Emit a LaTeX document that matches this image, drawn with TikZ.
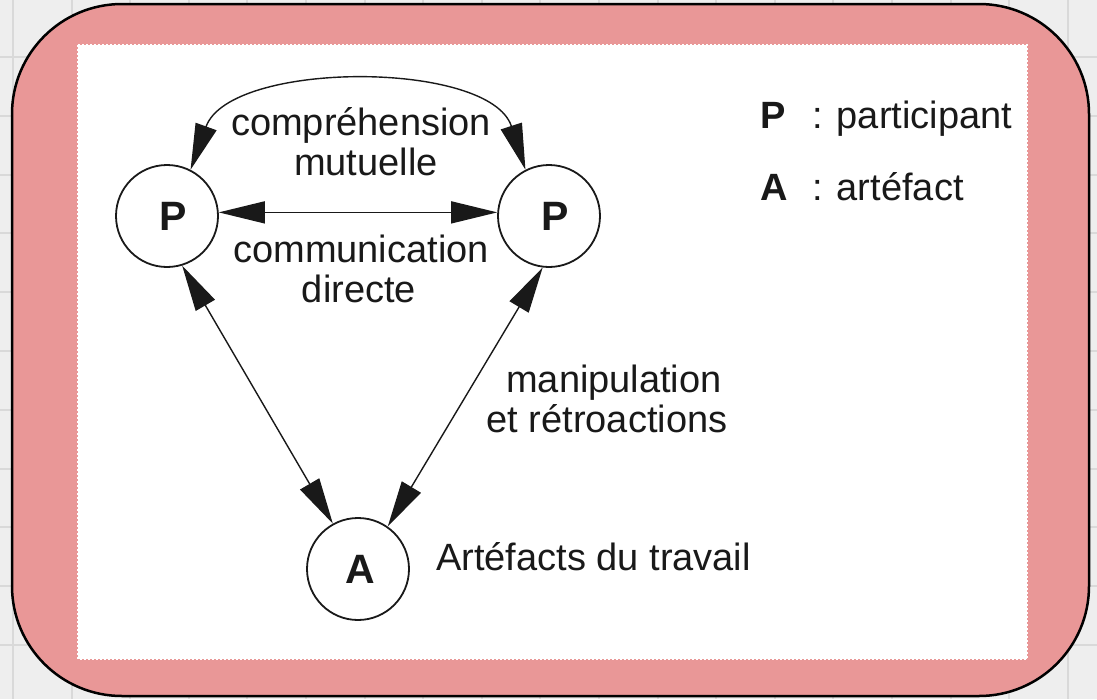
\documentclass[tikz,border=0pt]{standalone}
\usepackage{fontspec}
\setmainfont{Liberation Sans}
\usetikzlibrary{arrows.meta}
\definecolor{pinkbg}{RGB}{233,151,151}
\definecolor{gridbg}{RGB}{238,238,238}
\definecolor{gridln}{RGB}{217,217,217}
\definecolor{ink}{RGB}{25,25,25}
\begin{document}
\begin{tikzpicture}[x=1pt,y=-1pt,
  bigfont/.style={font=\fontsize{38}{40}\selectfont},
  boldfont/.style={font=\fontsize{38}{40}\selectfont\bfseries},
  circ/.style={circle, draw=ink, line width=1.8pt, minimum size=102pt, inner sep=0pt, font=\fontsize{41}{42}\selectfont\bfseries, text=ink},
  txt/.style={inner sep=0pt, text=ink, bigfont},
  btxt/.style={inner sep=0pt, text=ink, boldfont},
  conn/.style={draw=ink, line width=1.4pt, {Triangle[length=46pt,width=22pt]}-{Triangle[length=46pt,width=22pt]}}]
\useasboundingbox (0,0) rectangle (1097,699);
\fill[gridbg] (0,0) rectangle (1097,699);
\foreach \i in {0,...,18} \draw[gridln, line width=2pt] ({13+58.6*\i},0) -- ++(0,699);
\foreach \j in {0,...,11} \draw[gridln, line width=2pt] (0,{-1.8+58.8*\j}) -- ++(1097,0);
\draw[line width=2.5pt, fill=pinkbg, rounded corners=110pt] (12,4) rectangle (1089,696);
\draw[fill=white, draw=white, line width=1.5pt, dash pattern=on 2pt off 2pt] (78,45) rectangle (1027,659);

\node[circ] (p1) at (167,216) {\kern12pt P};
\node[circ] (p2) at (549,216) {\kern12pt P};
\node[circ] (a) at (358,569) {\kern5pt A};

\draw[conn] (p1.4) -- (p2.176);
\draw[conn] (p1.63) .. controls (230,60) and (490,60) .. (p2.117);
\draw[conn] (p1.-73) -- (a.119);
\draw[conn] (p2.-97) -- (a.55);

\node[txt, anchor=base] (l1) at (361,135) {compréhension};
\node[txt, anchor=base] (l2) at (366,175) {mutuelle};
\node[txt, anchor=base] (l3) at (361,262) {communication};
\node[txt, anchor=base] (l4) at (359,302) {directe};
\node[txt, anchor=base] (l5) at (614,392) {manipulation};
\node[txt, anchor=base] (l6) at (607,432) {et rétroactions};
\node[txt, anchor=base west] (l7) at (436,570) {Artéfacts du travail};
\node[btxt, anchor=base west] (kp) at (760,128) {P};
\node[txt, anchor=base west] (kpt) at (812,128) {: participant};
\node[btxt, anchor=base west] (ka) at (760,200) {A};
\node[txt, anchor=base west] (kat) at (812,200) {: artéfact};
\end{tikzpicture}
\end{document}
